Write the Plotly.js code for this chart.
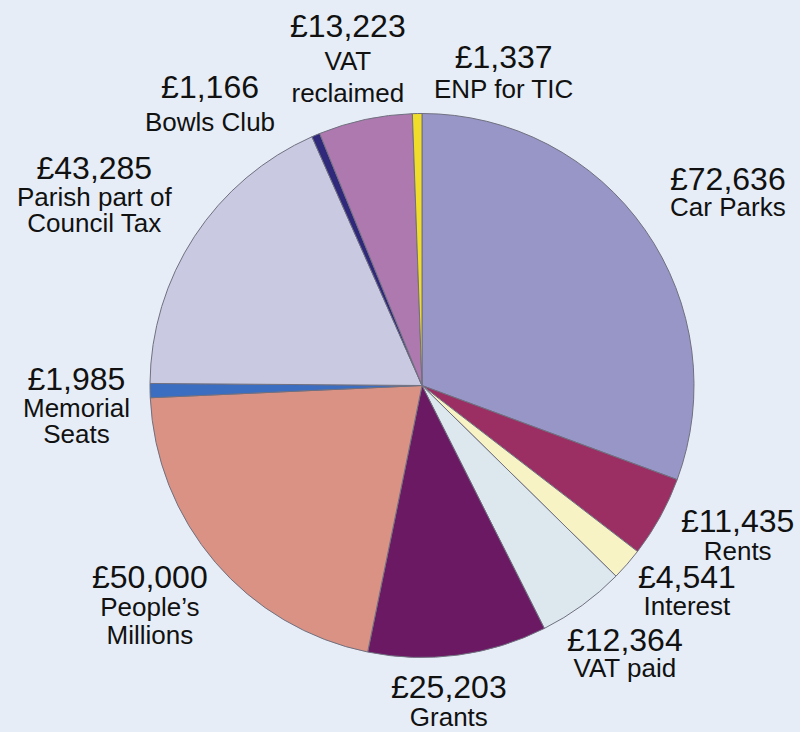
<!DOCTYPE html>
<html>
<head>
<meta charset="utf-8">
<script src="https://cdn.plot.ly/plotly-3.0.1.min.js"></script>
<style>html,body{margin:0;padding:0;background:#e6edf6;}#chart{width:800px;height:732px;}</style>
</head>
<body>
<div id="chart"></div>
<script>
// Data
var categories = ["Car Parks", "Rents", "Interest", "VAT paid", "Grants", "People\u2019s Millions",
  "Memorial Seats", "Parish part of Council Tax", "Bowls Club", "VAT reclaimed", "ENP for TIC"];
var amounts = [72636, 11435, 4541, 12364, 25203, 50000, 1985, 43285, 1166, 13223, 1337];
var nameLines = [["Car Parks"], ["Rents"], ["Interest"], ["VAT paid"], ["Grants"], ["People\u2019s", "Millions"],
  ["Memorial", "Seats"], ["Parish part of", "Council Tax"], ["Bowls Club"], ["VAT", "reclaimed"], ["ENP for TIC"]];

// Styles
var sliceColors = ["#9896c7", "#9b2e63", "#f8f3c4", "#dce7ee", "#6b1963", "#d99283",
  "#3b6dc1", "#c9c9e1", "#30287a", "#ae79af", "#f0dc2a"];
// label positions in pixels: [centerX, valueY, lineGap]
var labelPos = [
  [728, 180, 26],
  [737, 522, 28],
  [687, 578, 27],
  [625, 641, 26],
  [449, 688, 28],
  [150, 578, 28],
  [76, 380, 26.5],
  [94, 169, 26.5],
  [210, 88, 33],
  [348, 27, 32.5],
  [503, 58, 30]
];

var W = 800, H = 732;
var FONT = "Liberation Sans, Arial, sans-serif";
var annotations = [];
function fmt(v) { return "\u00a3" + v.toLocaleString("en-GB"); }
for (var i = 0; i < amounts.length; i++) {
  var p = labelPos[i];
  var lines = ["<span style=\"font-size:32px\">" + fmt(amounts[i]) + "</span>"];
  for (var j = 0; j < nameLines[i].length; j++) {
    lines.push("<span style=\"font-size:26px\">" + nameLines[i][j] + "</span>");
  }
  var n = lines.length;
  var midY = p[1] + (n - 1) * p[2] / 2 - 1.5;
  annotations.push({
    text: lines.join("<br>"), xref: "paper", yref: "paper",
    x: p[0] / W, y: 1 - midY / H, xanchor: "center", yanchor: "middle", align: "center",
    showarrow: false, borderpad: 0,
    font: {family: FONT, size: p[2] / 1.3, color: "#111"}
  });
}

var trace = {
  type: "pie",
  labels: categories,
  values: amounts,
  sort: false,
  direction: "clockwise",
  rotation: 0,
  textinfo: "none",
  hoverinfo: "label+value",
  marker: {colors: sliceColors, line: {color: "#707080", width: 1}},
  domain: {x: [150 / W, 694 / W], y: [1 - 657.5 / H, 1 - 113.5 / H]}
};

var layout = {
  width: W, height: H,
  margin: {l: 0, r: 0, t: 0, b: 0},
  paper_bgcolor: "#e6edf6",
  plot_bgcolor: "#e6edf6",
  showlegend: false,
  annotations: annotations
};

Plotly.newPlot("chart", [trace], layout, {displayModeBar: false, staticPlot: true});
</script>
</body>
</html>
